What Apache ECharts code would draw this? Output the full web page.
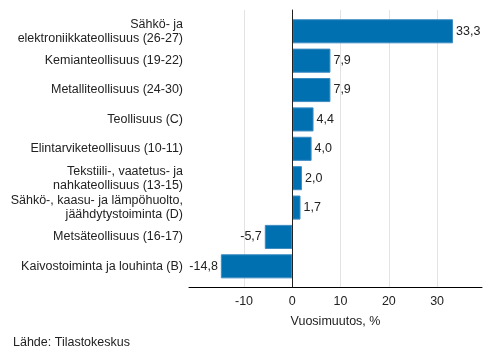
<!DOCTYPE html>
<html><head><meta charset="utf-8">
<script src="https://cdn.jsdelivr.net/npm/echarts@6/dist/echarts.min.js"></script>
<style>html,body{margin:0;padding:0;background:#fff}#c{width:493px;height:360px}</style>
</head><body><div id="c"></div>
<script>
const categories = [
  'Sähkö- ja\nelektroniikkateollisuus (26-27)',
  'Kemianteollisuus (19-22)',
  'Metalliteollisuus (24-30)',
  'Teollisuus (C)',
  'Elintarviketeollisuus (10-11)',
  'Tekstiili-, vaatetus- ja\nnahkateollisuus (13-15)',
  'Sähkö-, kaasu- ja lämpöhuolto,\njäähdytystoiminta (D)',
  'Metsäteollisuus (16-17)',
  'Kaivostoiminta ja louhinta (B)'
];
const values = [33.3, 7.9, 7.9, 4.4, 4.0, 2.0, 1.7, -5.7, -14.8];
const tickValues = [-10, 0, 10, 20, 30];
const axisMin = -21.4, axisMax = 39.3;
const axisName = 'Vuosimuutos, %';
const sourceText = 'Lähde: Tilastokeskus';

const FONT = '"Liberation Sans", Arial, sans-serif';
const FS = 12.5;
const TXT = '#222';
const fmt = v => v.toFixed(1).replace('.', ',');

const chart = echarts.init(document.getElementById('c'), null, {renderer: 'canvas'});
chart.setOption({
  animation: false,
  textStyle: {fontFamily: FONT},
  grid: [
    {left: 189, right: 11, top: 10, bottom: 73},
    {left: 189, right: 11, top: 16.6, bottom: 79}
  ],
  xAxis: [
    {
      type: 'value', gridIndex: 0, min: axisMin, max: axisMax,
      axisLine: {show: true, onZero: false, lineStyle: {color: '#000', width: 1}},
      axisTick: {show: false},
      axisLabel: {customValues: tickValues, color: TXT, fontSize: FS, fontFamily: FONT, margin: 8,
                  formatter: v => String(v)},
      splitLine: {show: false},
      name: axisName, nameLocation: 'middle', nameGap: 28,
      nameTextStyle: {color: TXT, fontSize: FS, fontFamily: FONT}
    },
    {
      type: 'value', gridIndex: 1, min: axisMin, max: axisMax, show: false
    }
  ],
  yAxis: [
    {
      type: 'value', gridIndex: 0, min: 0, max: 1, z: 5,
      axisLine: {show: true, onZero: true, lineStyle: {color: '#222', width: 1}},
      axisTick: {show: false}, axisLabel: {show: false}, splitLine: {show: false}
    },
    {
      type: 'category', gridIndex: 1, inverse: true, data: categories,
      axisLine: {show: false}, axisTick: {show: false}, splitLine: {show: false},
      axisLabel: {color: TXT, fontSize: FS, fontFamily: FONT, margin: 6, lineHeight: 14, align: 'right'}
    }
  ],
  series: [
    {
      type: 'line', xAxisIndex: 0, yAxisIndex: 0, data: [], silent: true, z: 1,
      markLine: {
        silent: true, symbol: 'none', z: 1, animation: false,
        label: {show: false},
        lineStyle: {color: '#e3e3e3', type: 'solid', width: 1},
        data: tickValues.filter(v => v !== 0).map(v => ({xAxis: v}))
      }
    },
    {
      type: 'bar', xAxisIndex: 1, yAxisIndex: 1, z: 3,
      barCategoryGap: '18%',
      itemStyle: {color: '#0070b0', borderColor: '#3d8cc2', borderWidth: 1},
      data: values.map(v => ({value: v, label: {position: v < 0 ? 'left' : 'right'}})),
      label: {show: true, color: TXT, fontSize: FS, fontFamily: FONT, distance: 3,
              formatter: p => fmt(p.value)}
    }
  ],
  graphic: [{
    type: 'text', left: 13, top: 336,
    style: {text: sourceText, fill: TXT, font: FS + 'px ' + FONT}
  }]
});
</script>
</body></html>
